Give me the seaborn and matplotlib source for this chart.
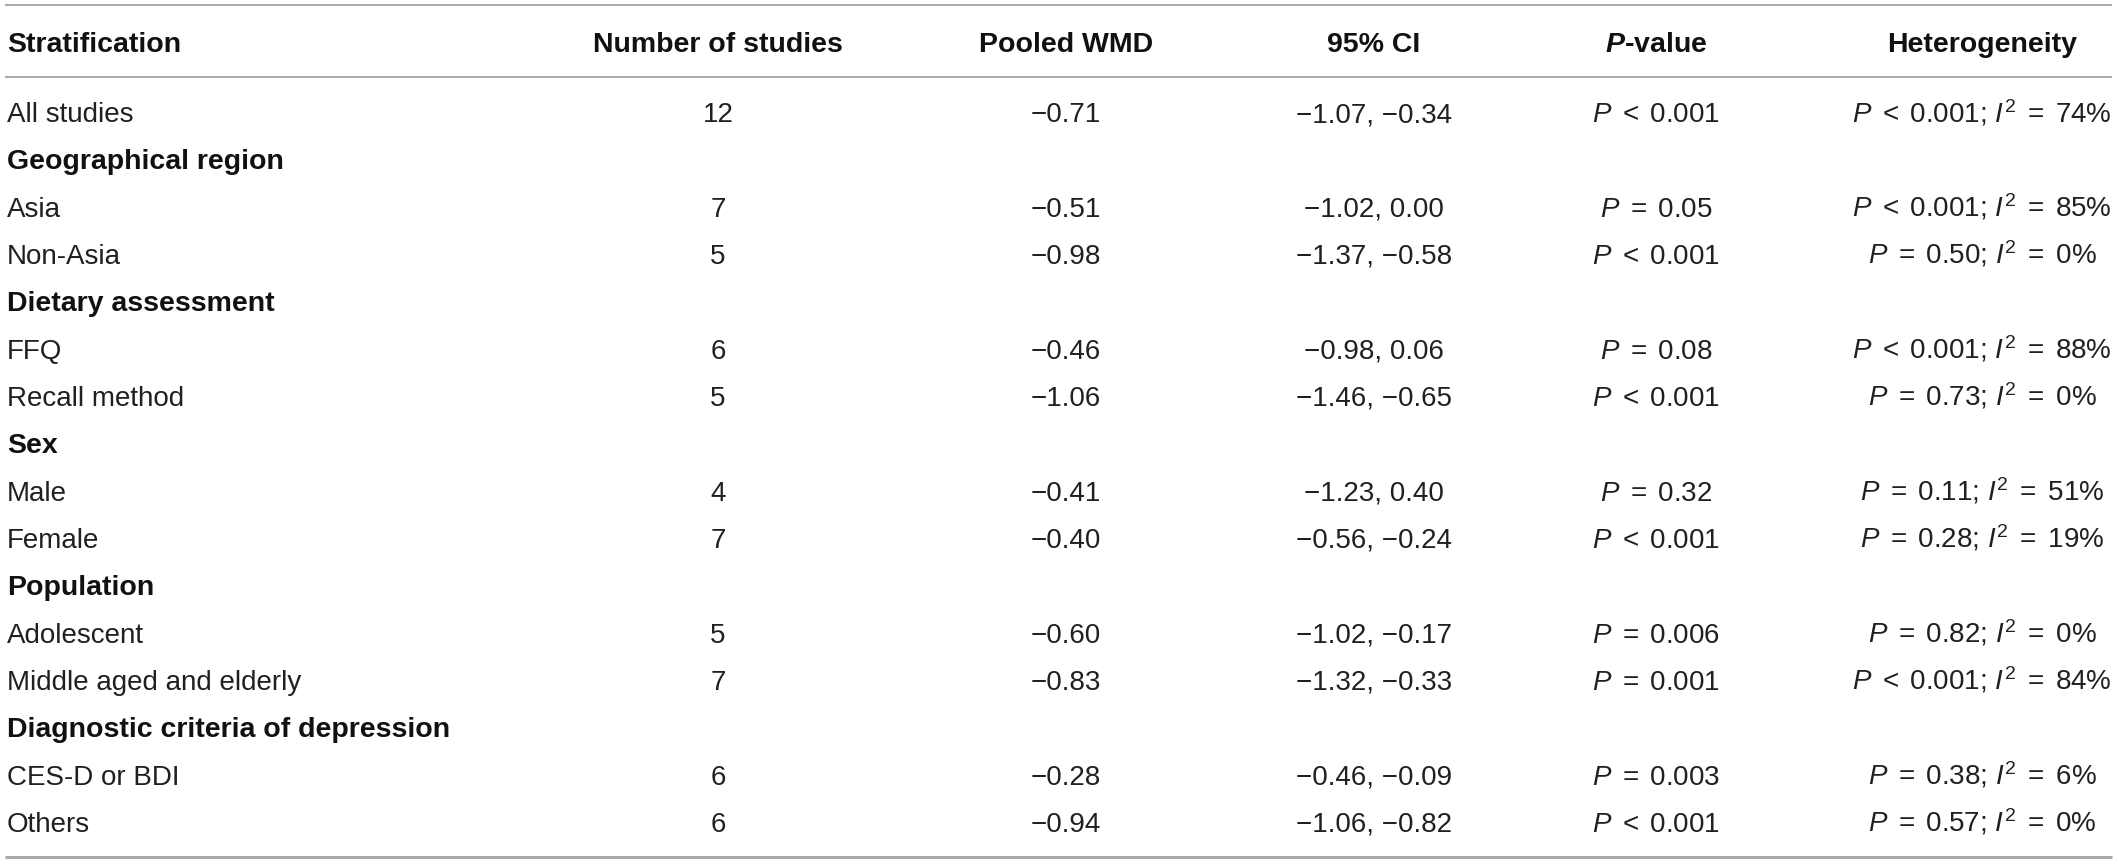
import pandas as pd
import seaborn as sns
import matplotlib.pyplot as plt

# table content
header = ["Stratification", "Number of studies", "Pooled WMD", "95% CI",
          r"$\mathbfit{P}$-value", "Heterogeneity"]

strata = ["All studies", "Geographical region", "Asia", "Non-Asia",
          "Dietary assessment", "FFQ", "Recall method", "Sex", "Male", "Female",
          "Population", "Adolescent", "Middle aged and elderly",
          "Diagnostic criteria of depression", "CES-D or BDI", "Others"]
is_group = [False, True, False, False, True, False, False, True, False, False,
            True, False, False, True, False, False]

n_studies = [12, None, 7, 5, None, 6, 5, None, 4, 7, None, 5, 7, None, 6, 6]
pooled_wmd = [-0.71, None, -0.51, -0.98, None, -0.46, -1.06, None, -0.41, -0.40,
              None, -0.60, -0.83, None, -0.28, -0.94]
ci_lower = [-1.07, None, -1.02, -1.37, None, -0.98, -1.46, None, -1.23, -0.56,
            None, -1.02, -1.32, None, -0.46, -1.06]
ci_upper = [-0.34, None, 0.00, -0.58, None, 0.06, -0.65, None, 0.40, -0.24,
            None, -0.17, -0.33, None, -0.09, -0.82]
p_value = ["< 0.001", None, "= 0.05", "< 0.001", None, "= 0.08", "< 0.001", None,
           "= 0.32", "< 0.001", None, "= 0.006", "= 0.001", None, "= 0.003", "< 0.001"]
het_p = ["< 0.001", None, "< 0.001", "= 0.50", None, "< 0.001", "= 0.73", None,
         "= 0.11", "= 0.28", None, "= 0.82", "< 0.001", None, "= 0.38", "= 0.57"]
i_squared = [74, None, 85, 0, None, 88, 0, None, 51, 19, None, 0, 84, None, 6, 0]

df = pd.DataFrame({"strata": strata, "group": is_group, "n": n_studies,
                   "wmd": pooled_wmd, "lo": ci_lower, "hi": ci_upper,
                   "p": p_value, "het_p": het_p, "i2": i_squared})

SP = r" $\,$"  # space plus thin space around < and =


def num(v):
    return f"{v:.2f}".replace("-", "\u2212")


def rel(s):
    op, val = s.split(" ")
    return SP + op + SP + val


sns.set_theme(style="white")
plt.rcParams['font.family'] = ['Liberation Sans', 'DejaVu Sans']
plt.rcParams['mathtext.fontset'] = 'custom'
plt.rcParams['mathtext.rm'] = 'Liberation Sans'
plt.rcParams['mathtext.it'] = 'Liberation Sans:italic'
plt.rcParams['mathtext.bf'] = 'Liberation Sans:bold'
plt.rcParams['mathtext.bfit'] = 'Liberation Sans:italic:bold'

fig = plt.figure(figsize=(21.18, 8.64), dpi=100)
ax = fig.add_axes([0, 0, 1, 1])
ax.set_xlim(0, 2118)
ax.set_ylim(864, 0)
ax.axis('off')

col_x = [7, 718, 1066, 1374, 1656, 1982]
fs = 20
txt = "#231f20"
line_c = "#a8a8a8"

# rules
ax.plot([5, 2112], [5, 5], color=line_c, lw=1.4, solid_capstyle='butt')
ax.plot([5, 2112], [77, 77], color=line_c, lw=1.4, solid_capstyle='butt')
ax.plot([5, 2112], [857, 857], color=line_c, lw=2.2, solid_capstyle='butt')

# header
for i, h in enumerate(header):
    ax.text(col_x[i], 52, h, fontsize=fs + 0.5, fontweight='bold', color="#111111",
            ha='left' if i == 0 else 'center', va='baseline')

# body rows
y0, dy = 122, 47.33
for i, r in df.iterrows():
    y = y0 + dy * i
    if r["group"]:
        ax.text(col_x[0], y, r["strata"], fontsize=fs + 0.5, fontweight='bold',
                color="#111111", ha='left', va='baseline')
        continue
    ax.text(col_x[0], y, r["strata"], fontsize=fs, color=txt, ha='left', va='baseline')
    cells = [str(int(r["n"])),
             num(r["wmd"]),
             num(r["lo"]) + ", " + num(r["hi"]),
             r"$\mathit{P}$" + rel(r["p"]),
             r"$\mathit{P}$" + rel(r["het_p"]) + r"; $\mathit{I}^{2}$" + rel(f"= {int(r['i2'])}%")]
    for j, c in enumerate(cells):
        ax.text(col_x[j + 1], y, c, fontsize=fs, color=txt, ha='center', va='baseline')

fig.savefig("out.png", dpi=100, facecolor="white")
